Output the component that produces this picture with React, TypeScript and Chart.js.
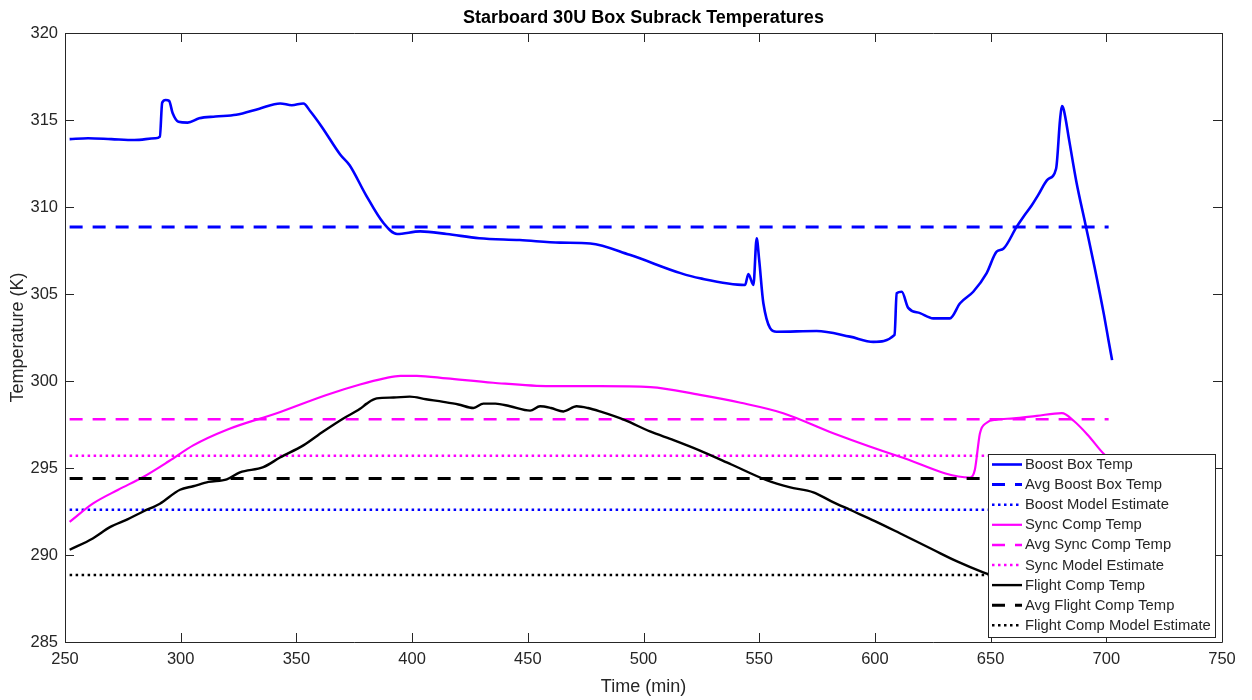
import React, { useEffect, useRef } from "react";
import { Chart, registerables } from "chart.js";

Chart.register(...registerables);

const TITLE = "Starboard 30U Box Subrack Temperatures";
const X_LABEL = "Time (min)";
const Y_LABEL = "Temperature (K)";

const X_MIN = 250;
const X_MAX = 750;
const X_STEP = 50;
const Y_MIN = 285;
const Y_MAX = 320;
const Y_STEP = 5;

// Boost Box Temp
const boostTime = [
  252, 260, 270, 280, 289, 291, 292, 293.5, 295, 296.5, 299, 303, 308, 315, 324, 334, 343, 348, 353, 356,
  361, 369, 373, 380, 387.5, 393.5, 403.5, 415, 429, 446.5, 464, 477, 494, 516, 524.4, 543.9, 545.3, 547.5,
  548.9, 550, 551.8, 557.5, 574.8, 589.2, 599.3, 608.5, 609.4, 611.6, 614.4, 619.5, 625.2, 632.4, 636.8,
  642.5, 648.3, 652.6, 655.5, 661.3, 664.2, 667.8, 670.6, 674.8, 678.3, 680, 680.8, 681.6, 684, 687, 691,
  695, 699, 701, 702.5,
];
const boostTemp = [
  313.9, 313.95, 313.9, 313.85, 313.95, 314.05, 316.0, 316.15, 316.1, 315.4, 314.9, 314.85, 315.1, 315.2,
  315.3, 315.65, 315.95, 315.85, 315.95, 315.5, 314.6, 313.0, 312.4, 310.7, 309.1, 308.45, 308.6, 308.45,
  308.2, 308.1, 307.95, 307.9, 307.25, 306.2, 305.9, 305.52, 306.15, 305.52, 308.2, 306.95, 304.47, 302.83,
  302.87, 302.55, 302.25, 302.65, 305.04, 305.13, 304.2, 303.9, 303.6, 303.6, 304.47, 305.13, 306.2,
  307.43, 307.6, 308.87, 309.44, 310.1, 310.7, 311.6, 312.2, 315.0, 315.8, 315.6, 313.8, 311.5, 309.0,
  306.5, 303.8, 302.3, 301.2,
];

// Sync Comp Temp
const syncTime = [
  252, 262, 273, 284, 295, 305.4, 320, 341.5, 363, 377.5, 388, 395, 402, 415, 435, 459.6, 481, 503, 524.4,
  542, 560.4, 582, 610.8, 641.1, 643.2, 645.4, 648.3, 652.6, 660, 670, 680.8, 686, 692, 699.4, 701,
];
const syncTemp = [
  291.9, 292.95, 293.75, 294.5, 295.4, 296.3, 297.2, 298.15, 299.2, 299.8, 300.15, 300.3, 300.3, 300.15,
  299.9, 299.7, 299.7, 299.65, 299.2, 298.75, 298.15, 297.0, 295.65, 294.45, 294.9, 297.0, 297.6, 297.78,
  297.85, 298.0, 298.15, 297.7, 296.9, 295.75, 295.6,
];

// Flight Comp Temp
const flightTime = [
  252, 262, 269.4, 277, 283.8, 291, 299.7, 305.4, 312, 319.9, 325.6, 335.7, 342.9, 353, 361.6, 370.3, 377.5,
  380.4, 384.7, 392, 399, 406, 413.5, 420, 426.5, 430.8, 436, 442.3, 451, 455.3, 460, 465.4, 471.1, 476,
  481.2, 492, 502.8, 513, 524.4, 538, 553.2, 563, 573.4, 581, 589.2, 600, 610.8, 625.2, 636, 646.8, 650,
];
const flightTemp = [
  290.3, 290.95, 291.6, 292.05, 292.5, 292.95, 293.75, 293.95, 294.2, 294.35, 294.75, 295.05, 295.6, 296.3,
  297.1, 297.85, 298.4, 298.7, 299.0, 299.05, 299.1, 298.95, 298.8, 298.65, 298.45, 298.7, 298.7, 298.55,
  298.3, 298.55, 298.45, 298.25, 298.55, 298.45, 298.25, 297.75, 297.1, 296.6, 296.0, 295.2, 294.3, 293.9,
  293.6, 293.1, 292.6, 291.95, 291.25, 290.3, 289.6, 289.0, 288.85,
];

// Constant reference lines
const refSpan = [252, 701];
const avgBoost = 308.85;
const modelBoost = 292.6;
const avgSync = 297.8;
const modelSync = 295.7;
const avgFlight = 294.4;
const modelFlight = 288.85;

const BLUE = "#0000ff";
const MAGENTA = "#ff00ff";
const BLACK = "#000000";
const AXIS_COLOR = "#262626";
const FONT = '"Liberation Sans", Arial, Helvetica, sans-serif';

const DASH = [13, 10];
const DOT = [2.5, 3.5];

const toPoints = (xs: number[], ys: number[]) => xs.map((x, i) => ({ x, y: ys[i] }));
const flat = (v: number) => refSpan.map((x) => ({ x, y: v }));

const titlePlugin = {
  id: "matlabTitle",
  afterDraw(chart: any) {
    const { ctx, chartArea } = chart;
    ctx.save();
    ctx.font = `bold 18px ${FONT}`;
    ctx.fillStyle = "#000";
    ctx.textAlign = "center";
    ctx.textBaseline = "middle";
    ctx.fillText(TITLE, (chartArea.left + chartArea.right) / 2, 18);
    ctx.restore();
  },
};

const boxPlugin = {
  id: "matlabBox",
  afterDraw(chart: any) {
    const { ctx, chartArea, scales } = chart;
    const { left, right, top, bottom } = chartArea;
    const tl = 9;
    ctx.save();
    ctx.strokeStyle = AXIS_COLOR;
    ctx.lineWidth = 1;
    ctx.beginPath();
    ctx.rect(Math.round(left) + 0.5, Math.round(top) + 0.5, Math.round(right - left), Math.round(bottom - top));
    ctx.stroke();
    ctx.beginPath();
    scales.x.ticks.forEach((t: any) => {
      const px = Math.round(scales.x.getPixelForValue(t.value)) + 0.5;
      ctx.moveTo(px, bottom);
      ctx.lineTo(px, bottom - tl);
      ctx.moveTo(px, top);
      ctx.lineTo(px, top + tl);
    });
    scales.y.ticks.forEach((t: any) => {
      const py = Math.round(scales.y.getPixelForValue(t.value)) + 0.5;
      ctx.moveTo(left, py);
      ctx.lineTo(left + tl, py);
      ctx.moveTo(right, py);
      ctx.lineTo(right - tl, py);
    });
    ctx.stroke();
    ctx.restore();
  },
};

const legendPlugin = {
  id: "matlabLegend",
  afterDraw(chart: any) {
    const { ctx, chartArea } = chart;
    const sets = chart.data.datasets;
    const rowH = 20.1;
    const w = 227;
    const h = 183;
    const x0 = Math.round(chartArea.right - 7 - w);
    const y0 = Math.round(chartArea.bottom - 5 - h);
    ctx.save();
    ctx.fillStyle = "#ffffff";
    ctx.fillRect(x0, y0, w, h);
    ctx.strokeStyle = AXIS_COLOR;
    ctx.lineWidth = 1;
    ctx.strokeRect(x0 + 0.5, y0 + 0.5, w, h);
    ctx.font = `14.8px ${FONT}`;
    ctx.textBaseline = "middle";
    ctx.textAlign = "left";
    sets.forEach((ds: any, i: number) => {
      const cy = y0 + 10.5 + i * rowH;
      ctx.save();
      ctx.strokeStyle = ds.borderColor;
      ctx.lineWidth = ds.borderWidth;
      ctx.setLineDash(ds.borderDash || []);
      ctx.beginPath();
      ctx.moveTo(x0 + 4, cy);
      ctx.lineTo(x0 + 34, cy);
      ctx.stroke();
      ctx.restore();
      ctx.fillStyle = AXIS_COLOR;
      ctx.fillText(ds.label, x0 + 37, cy + 0.5);
    });
    ctx.restore();
  },
};

export default function App() {
  const canvasRef = useRef<HTMLCanvasElement | null>(null);

  useEffect(() => {
    document.body.style.margin = "0";
    const canvas = canvasRef.current;
    if (!canvas) return;

    const solid = (label: string, color: string, xs: number[], ys: number[], width = 2.5) => ({
      label,
      data: toPoints(xs, ys),
      borderColor: color,
      backgroundColor: color,
      borderWidth: width,
      pointRadius: 0,
      fill: false,
      cubicInterpolationMode: "monotone" as const,
    });
    const ref = (label: string, color: string, v: number, dash: number[], width: number) => ({
      label,
      data: flat(v),
      borderColor: color,
      backgroundColor: color,
      borderWidth: width,
      borderDash: dash,
      pointRadius: 0,
      fill: false,
    });

    const datasets = [
      solid("Boost Box Temp", BLUE, boostTime, boostTemp, 2.6),
      ref("Avg Boost Box Temp", BLUE, avgBoost, DASH, 3),
      ref("Boost Model Estimate", BLUE, modelBoost, DOT, 2.5),
      solid("Sync Comp Temp", MAGENTA, syncTime, syncTemp, 2.2),
      ref("Avg Sync Comp Temp", MAGENTA, avgSync, DASH, 2.5),
      ref("Sync Model Estimate", MAGENTA, modelSync, DOT, 2.5),
      solid("Flight Comp Temp", BLACK, flightTime, flightTemp, 2.4),
      ref("Avg Flight Comp Temp", BLACK, avgFlight, DASH, 3),
      ref("Flight Comp Model Estimate", BLACK, modelFlight, DOT, 2.5),
    ].map((d, i) => ({ ...d, order: 9 - i }));

    const chart = new Chart(canvas, {
      type: "line",
      data: { datasets },
      plugins: [titlePlugin, boxPlugin, legendPlugin],
      options: {
        responsive: false,
        animation: false,
        devicePixelRatio: 1,
        layout: { padding: { top: 33, right: 30, left: 0, bottom: 0 } },
        plugins: {
          legend: { display: false },
          tooltip: { enabled: false },
          title: { display: false },
        },
        scales: {
          x: {
            type: "linear",
            min: X_MIN,
            max: X_MAX,
            ticks: {
              stepSize: X_STEP,
              color: AXIS_COLOR,
              font: { family: FONT, size: 16.5 },
              padding: 8,
              maxRotation: 0,
            },
            grid: { display: false, drawTicks: false },
            border: { display: false },
            title: {
              display: true,
              text: X_LABEL,
              color: AXIS_COLOR,
              font: { family: FONT, size: 18 },
              padding: { top: 0, bottom: 2 },
            },
            afterFit: (s: any) => {
              s.height = 58;
            },
          },
          y: {
            type: "linear",
            min: Y_MIN,
            max: Y_MAX,
            ticks: {
              stepSize: Y_STEP,
              color: AXIS_COLOR,
              font: { family: FONT, size: 16.5 },
              padding: 7,
            },
            grid: { display: false, drawTicks: false },
            border: { display: false },
            title: {
              display: true,
              text: Y_LABEL,
              color: AXIS_COLOR,
              font: { family: FONT, size: 18 },
              padding: { top: 7, bottom: 0 },
            },
            afterFit: (s: any) => {
              s.width = 65;
            },
          },
        },
      },
    });

    return () => chart.destroy();
  }, []);

  return (
    <div style={{ width: 1252, height: 700, background: "#fff" }}>
      <canvas ref={canvasRef} width={1252} height={700} style={{ display: "block" }} />
    </div>
  );
}
